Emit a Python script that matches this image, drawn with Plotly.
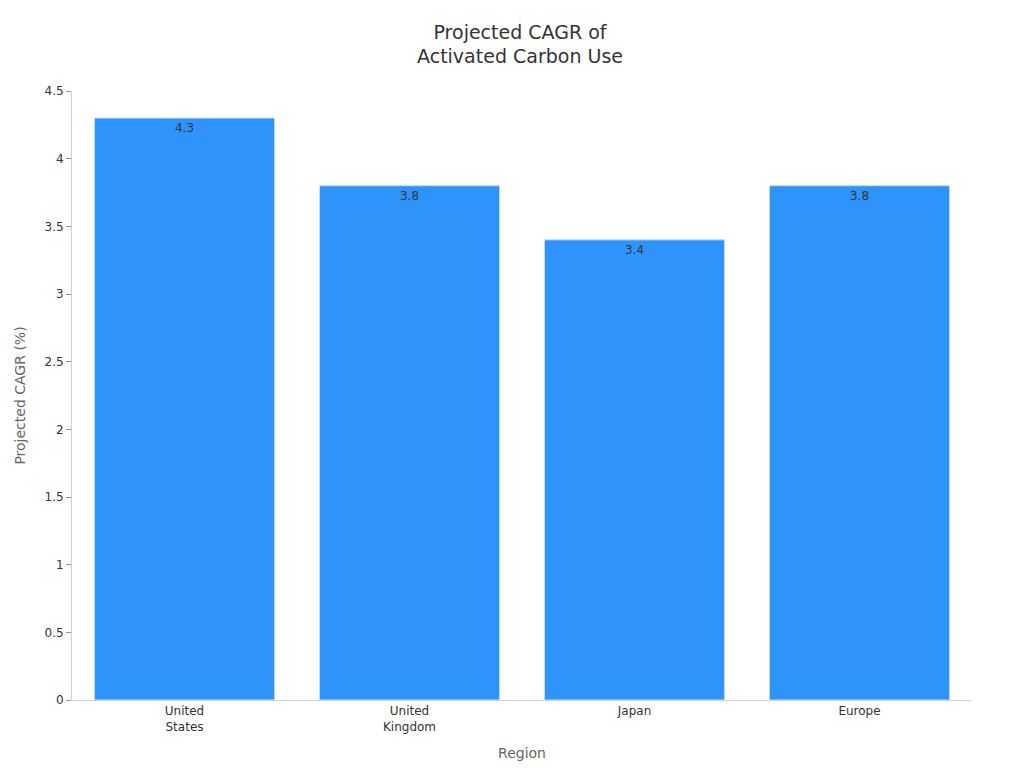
import plotly.graph_objects as go

regions = ["United<br>States", "United<br>Kingdom", "Japan", "Europe"]
cagr = [4.3, 3.8, 3.4, 3.8]

fig = go.Figure(go.Bar(
    x=regions, y=cagr, text=[str(v) for v in cagr], textposition="inside",
    insidetextanchor="end", textfont=dict(color="#333333", size=12),
    marker=dict(color="#2E93FA", line=dict(color="#BFDCFB", width=1)),
))
fig.update_layout(
    width=1024, height=768, paper_bgcolor="white", plot_bgcolor="white",
    font=dict(family="DejaVu Sans", size=12, color="#333333"),
    title=dict(text="Projected CAGR of<br>Activated Carbon Use", x=0.5, xanchor="center",
               y=0.96, font=dict(size=19, color="#333333")),
    margin=dict(l=64, r=60, t=83, b=76),
    bargap=0.2, showlegend=False,
    xaxis=dict(title=dict(text="Region", font=dict(size=14, color="#666666")),
               showline=True, linecolor="#D0D0D0", ticks="", tickfont=dict(size=12)),
    yaxis=dict(title=dict(text="Projected CAGR (%)", font=dict(size=14, color="#666666")),
               range=[0, 4.5], dtick=0.5, showgrid=False, showline=True, linecolor="#D0D0D0",
               ticks="outside", ticklen=5, tickcolor="#999999", zeroline=False),
)
fig.write_html("out.html")
